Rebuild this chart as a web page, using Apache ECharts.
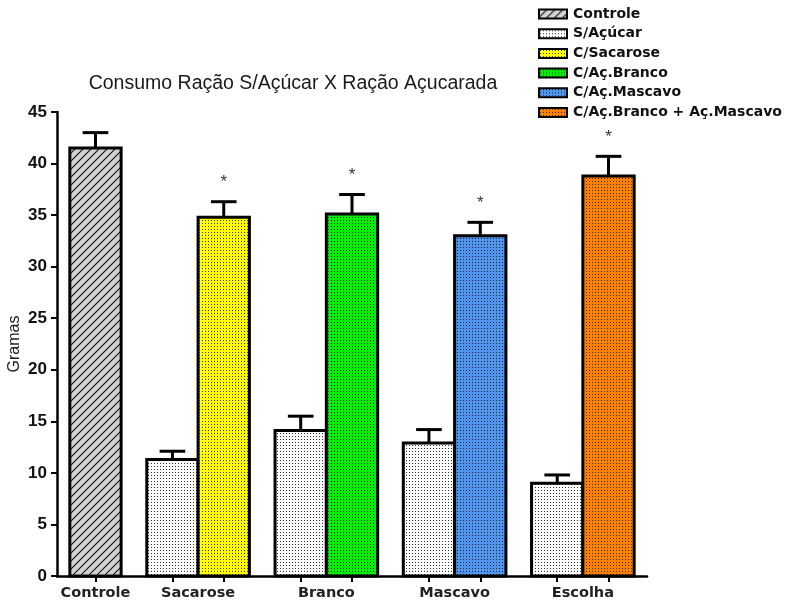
<!DOCTYPE html>
<html>
<head>
<meta charset="utf-8">
<script src="https://cdn.jsdelivr.net/npm/echarts@6/dist/echarts.min.js"></script>
<style>
  html, body { margin: 0; padding: 0; background: #fff; }
  #chart { width: 786px; height: 602px; }
</style>
</head>
<body>
<div id="chart"></div>
<script>
// Food intake (grams) per group, mean + SEM
const categories = ['Controle', 'Sacarose', 'Branco', 'Mascavo', 'Escolha'];
const seriesNames = ['Controle', 'S/Açúcar', 'C/Sacarose', 'C/Aç.Branco', 'C/Aç.Mascavo', 'C/Aç.Branco + Aç.Mascavo'];

const controleMean = [41.5];
const controleSem = [1.5];

// plain chow eaten in each sugar group (Sacarose, Branco, Mascavo, Escolha)
const semAcucarMean = [11.3, 14.1, 12.9, 9.0];
const semAcucarSem = [0.8, 1.4, 1.3, 0.8];

// sugared chow eaten in each sugar group
const comAcucarMean = [34.8, 35.1, 33.0, 38.8];
const comAcucarSem = [1.5, 1.9, 1.3, 1.9];
const comAcucarSignif = [true, true, true, true];

const yTicks = [0, 5, 10, 15, 20, 25, 30, 35, 40, 45];

// ---- fill patterns ----
function dotPattern(bg, dot) {
  const c = document.createElement('canvas');
  c.width = 3; c.height = 3;
  const g = c.getContext('2d');
  g.fillStyle = bg; g.fillRect(0, 0, 3, 3);
  g.fillStyle = dot;
  g.fillRect(1, 1, 1, 1);
  return { image: c, repeat: 'repeat' };
}
function hatchPattern(bg, line) {
  const s = 8;
  const c = document.createElement('canvas');
  c.width = s; c.height = s;
  const g = c.getContext('2d');
  g.fillStyle = bg; g.fillRect(0, 0, s, s);
  g.strokeStyle = line; g.lineWidth = 1.1;
  g.beginPath();
  g.moveTo(0, s); g.lineTo(s, 0);
  g.moveTo(-s / 2, s / 2); g.lineTo(s / 2, -s / 2);
  g.moveTo(s / 2, s * 1.5); g.lineTo(s * 1.5, s / 2);
  g.stroke();
  return { image: c, repeat: 'repeat' };
}

const fills = [
  hatchPattern('#d2d2d2', '#111'),
  dotPattern('#ffffff', '#333'),
  dotPattern('#ffff00', '#333'),
  dotPattern('#00f000', '#222'),
  dotPattern('#4f96f0', '#222'),
  dotPattern('#ff8000', '#333')
];

// ---- bar layout on a 0..11.5 slot scale (one slot = one bar width) ----
function barCenter(group, k) {
  if (group === 0) return 0.75;
  return 2.25 + 2.5 * (group - 1) + k;
}
const labelCenters = categories.map((c, i) => i === 0 ? 0.75 : barCenter(i, 0) + 0.5);
const tickCenters = [barCenter(0, 0)];
for (let i = 1; i < categories.length; i++) { tickCenters.push(barCenter(i, 0), barCenter(i, 1)); }

function renderBar(params, api) {
  const x = api.value(0), mean = api.value(1), sem = api.value(2), star = api.value(3);
  const base = api.coord([x, 0]);
  const top = api.coord([x, mean]);
  const cap = api.coord([x, mean + sem]);
  const w = api.size([1, 0])[0];
  const capW = w * 0.5;
  const children = [
    {
      type: 'rect',
      shape: { x: base[0] - w / 2, y: top[1], width: w, height: base[1] - top[1] },
      style: { fill: fills[params.seriesIndex], stroke: '#000', lineWidth: 3 }
    },
    {
      type: 'line',
      shape: { x1: top[0], y1: top[1], x2: cap[0], y2: cap[1] },
      style: { stroke: '#000', lineWidth: 3 }
    },
    {
      type: 'line',
      shape: { x1: cap[0] - capW / 2, y1: cap[1], x2: cap[0] + capW / 2, y2: cap[1] },
      style: { stroke: '#000', lineWidth: 3 }
    }
  ];
  if (star) {
    children.push({
      type: 'text',
      style: {
        text: '*', x: cap[0], y: cap[1] - 19,
        align: 'center', verticalAlign: 'middle',
        font: '17px "Liberation Sans", Arial, sans-serif', fill: '#333'
      }
    });
  }
  return { type: 'group', children: children };
}

// series data: [x, mean, sem, star]
const seriesData = [
  controleMean.map((m, i) => [barCenter(0, 0), m, controleSem[i], 0]),
  semAcucarMean.map((m, i) => [barCenter(i + 1, 0), m, semAcucarSem[i], 0])
];
comAcucarMean.forEach((m, i) => {
  seriesData.push([[barCenter(i + 1, 1), m, comAcucarSem[i], comAcucarSignif[i] ? 1 : 0]]);
});

const labelFont = '"DejaVu Sans", sans-serif';

const chart = echarts.init(document.getElementById('chart'), null, { renderer: 'canvas' });
chart.setOption({
  animation: false,
  backgroundColor: '#fff',
  title: {
    text: 'Consumo Ração S/Açúcar X Ração Açucarada',
    left: 288, top: 69, textAlign: 'center',
    textStyle: { fontFamily: '"Liberation Sans", Arial, sans-serif', fontSize: 19.5, fontWeight: 'normal', color: '#1a1a1a' }
  },
  legend: {
    orient: 'vertical',
    left: 533, top: 2,
    itemWidth: 28, itemHeight: 9, itemGap: 5.7,
    icon: 'rect',
    selectedMode: false,
    itemStyle: { borderColor: '#000', borderWidth: 2 },
    textStyle: { fontFamily: labelFont, fontSize: 14, fontWeight: 'bold', color: '#111', lineHeight: 14, padding: [0, 0, 0, 1] },
    data: seriesNames
  },
  grid: { left: 57, right: 139, top: 112, bottom: 26, containLabel: false, outerBoundsMode: 'none' },
  xAxis: {
    type: 'value', min: 0, max: 11.5,
    splitLine: { show: false },
    axisLine: { show: true, lineStyle: { color: '#000', width: 2.5 } },
    axisTick: { show: true, length: 6, lineStyle: { color: '#000', width: 2 }, customValues: tickCenters },
    axisLabel: {
      customValues: labelCenters, margin: 10,
      fontFamily: labelFont, fontSize: 14.5, fontWeight: 'bold', color: '#222',
      formatter: v => {
        const i = labelCenters.findIndex(c => Math.abs(c - v) < 1e-6);
        return i >= 0 ? categories[i] : '';
      }
    }
  },
  yAxis: {
    type: 'value', min: yTicks[0], max: yTicks[yTicks.length - 1], interval: 5,
    name: 'Gramas', nameLocation: 'middle', nameGap: 34, nameRotate: 90, nameMoveOverlap: false,
    nameTextStyle: { fontFamily: '"Liberation Sans", Arial, sans-serif', fontSize: 16, fontWeight: 'normal', color: '#222' },
    splitLine: { show: false },
    axisLine: { show: true, lineStyle: { color: '#000', width: 2.5 } },
    axisTick: { show: true, length: 6, lineStyle: { color: '#000', width: 2 } },
    axisLabel: { margin: 10, fontFamily: '"Liberation Sans", Arial, sans-serif', fontSize: 17, fontWeight: 'bold', color: '#111' }
  },
  series: seriesNames.map((name, i) => ({
    type: 'custom',
    name: name,
    renderItem: renderBar,
    itemStyle: { color: fills[i], borderColor: '#000', borderWidth: 2 },
    encode: { x: 0, y: [1, 2] },
    data: seriesData[i],
    clip: false
  }))
});
</script>
</body>
</html>
